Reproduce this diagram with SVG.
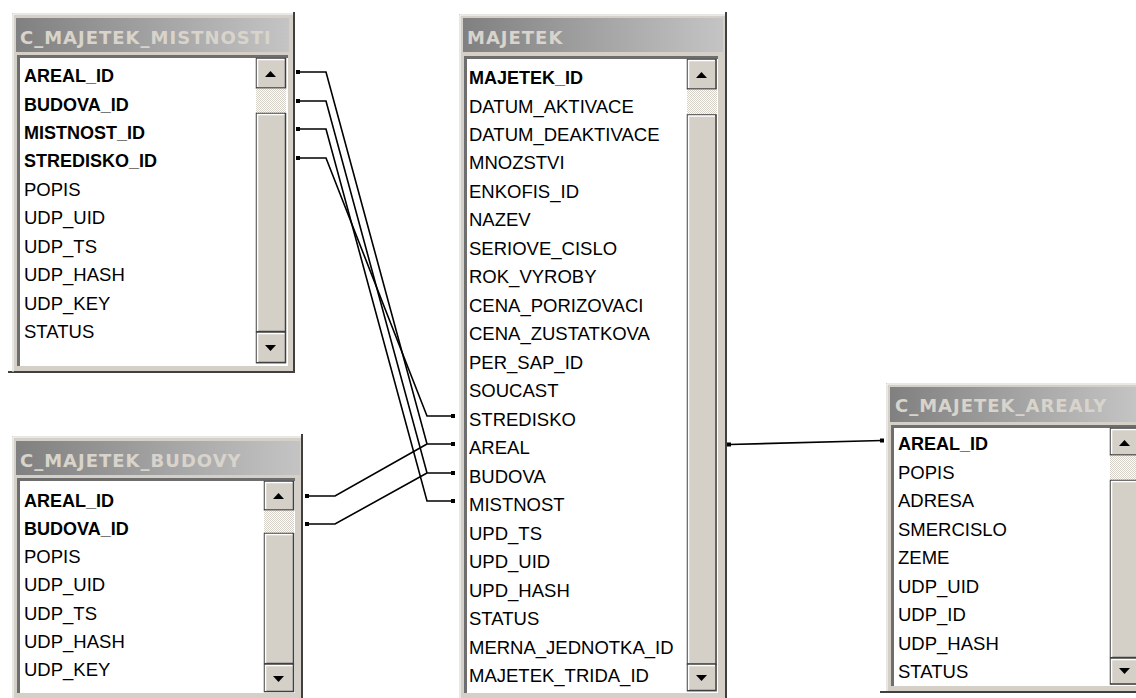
<svg xmlns="http://www.w3.org/2000/svg" width="1136" height="698" viewBox="0 0 1136 698">
<style>
.frame{fill:#d4d0c8}
.shadow{fill:none;stroke:#404040;stroke-width:2}
.hl{fill:none;stroke:#ffffff;stroke-width:1}
.title{font-family:"DejaVu Sans",sans-serif;font-weight:bold;font-size:18px;letter-spacing:1px;fill:#d8d4cc}
.list{fill:#ffffff}
.sunk{fill:none;stroke:#6e6e6e;stroke-width:3}
.f{font-family:"Liberation Sans",Arial,sans-serif;font-size:18.5px;fill:#000}
.k{font-family:"Liberation Sans",Arial,sans-serif;font-size:18px;font-weight:bold;fill:#000}
.btn{fill:#d4d0c8;stroke:#404040;stroke-width:1.5}
.btnhl{fill:none;stroke:#ffffff;stroke-width:1.5}
.hatch{fill:url(#chk)}
.arr{fill:#000}
.con{fill:none;stroke:#000;stroke-width:1.6}
.dot{fill:#000}
</style>
<defs>
<linearGradient id="tg" x1="0" y1="0" x2="1" y2="0">
<stop offset="0" stop-color="#808080"/>
<stop offset="1" stop-color="#c4c4c4"/>
</linearGradient>
<pattern id="chk" width="2" height="2" patternUnits="userSpaceOnUse">
<rect width="2" height="2" fill="#ffffff"/>
<rect width="1" height="1" fill="#d4d0c8"/>
<rect x="1" y="1" width="1" height="1" fill="#d4d0c8"/>
</pattern>
</defs>
<rect width="1136" height="698" fill="#ffffff"/>

<g id="c_majetek_mistnosti">
<rect class="frame" x="12" y="13" width="283" height="360"/>
<path class="shadow" d="M294,12 V372 H8"/>
<path class="hl" d="M13,372 V14 H293"/>
<rect x="16" y="18" width="273" height="34" fill="url(#tg)"/>
<text class="title" x="20" y="44">C_MAJETEK_MISTNOSTI</text>
<rect class="list" x="17" y="55" width="271" height="311"/>
<path class="sunk" d="M18.5,366 V56.5 H288"/>
<rect class="frame" x="256" y="58" width="30" height="306"/>
<rect class="btn" x="256.5" y="58.5" width="29" height="29.5"/>
<path class="btnhl" d="M257.5,87 V59.5 H284.5"/>
<path class="arr" d="M265,77 L276,77 L270.5,71 Z"/>
<rect class="hatch" x="256" y="88.5" width="30" height="24.5"/>
<rect class="btn" x="256.5" y="113.5" width="29" height="218"/>
<path class="btnhl" d="M257.5,331 V114.5 H284.5"/>
<rect class="btn" x="256.5" y="332.5" width="29" height="30"/>
<path class="btnhl" d="M257.5,362 V333.5 H284.5"/>
<path class="arr" d="M265,345 L276,345 L270.5,351 Z"/>
<text class="k" x="24" y="82">AREAL_ID</text>
<text class="k" x="24" y="110.5">BUDOVA_ID</text>
<text class="k" x="24" y="139">MISTNOST_ID</text>
<text class="k" x="24" y="167.3">STREDISKO_ID</text>
<text class="f" x="24" y="195.8">POPIS</text>
<text class="f" x="24" y="224.3">UDP_UID</text>
<text class="f" x="24" y="252.7">UDP_TS</text>
<text class="f" x="24" y="281.2">UDP_HASH</text>
<text class="f" x="24" y="309.6">UDP_KEY</text>
<text class="f" x="24" y="338">STATUS</text>
</g>

<g id="c_majetek_budovy">
<rect class="frame" x="12" y="436" width="291" height="262"/>
<path class="shadow" d="M302,434 V698"/>
<path class="hl" d="M13,698 V437 H301"/>
<rect x="16" y="441" width="284" height="34" fill="url(#tg)"/>
<text class="title" x="20" y="467">C_MAJETEK_BUDOVY</text>
<rect class="list" x="17" y="478" width="278" height="215"/>
<path class="sunk" d="M18.5,693 V479.5 H295"/>
<rect class="frame" x="264" y="481" width="30" height="211"/>
<rect class="btn" x="264.5" y="481.5" width="29" height="28.5"/>
<path class="btnhl" d="M265.5,509 V482.5 H292.5"/>
<path class="arr" d="M273,499 L284,499 L278.5,493 Z"/>
<rect class="hatch" x="264" y="510.5" width="30" height="22.5"/>
<rect class="btn" x="264.5" y="533.5" width="29" height="130"/>
<path class="btnhl" d="M265.5,663 V534.5 H292.5"/>
<rect class="btn" x="264.5" y="664.5" width="29" height="27"/>
<path class="btnhl" d="M265.5,691 V665.5 H292.5"/>
<path class="arr" d="M273,676 L284,676 L278.5,682 Z"/>
<text class="k" x="24" y="506.5">AREAL_ID</text>
<text class="k" x="24" y="534.8">BUDOVA_ID</text>
<text class="f" x="24" y="563.1">POPIS</text>
<text class="f" x="24" y="591.4">UDP_UID</text>
<text class="f" x="24" y="619.7">UDP_TS</text>
<text class="f" x="24" y="648">UDP_HASH</text>
<text class="f" x="24" y="676.3">UDP_KEY</text>
</g>

<g id="majetek">
<rect class="frame" x="459" y="14" width="268" height="684"/>
<path class="shadow" d="M726,12 V698"/>
<path class="hl" d="M460,698 V15 H725"/>
<rect x="463" y="18" width="260" height="34" fill="url(#tg)"/>
<text class="title" x="467" y="44">MAJETEK</text>
<rect class="list" x="464" y="56" width="254" height="637"/>
<path class="sunk" d="M465.5,693 V57.5 H718"/>
<rect class="frame" x="687" y="59" width="30" height="633"/>
<rect class="btn" x="687.5" y="59.5" width="28.5" height="29.5"/>
<path class="btnhl" d="M688.5,88 V60.5 H715"/>
<path class="arr" d="M696,78 L707,78 L701.5,72 Z"/>
<rect class="hatch" x="687" y="89.5" width="30" height="25"/>
<rect class="btn" x="687.5" y="115" width="28.5" height="549"/>
<path class="btnhl" d="M688.5,663 V116 H715"/>
<rect class="btn" x="687.5" y="664.5" width="28.5" height="26"/>
<path class="btnhl" d="M688.5,690 V665.5 H715"/>
<path class="arr" d="M696,675 L707,675 L701.5,681 Z"/>
<text class="k" x="469" y="84">MAJETEK_ID</text>
<text class="f" x="469" y="112.5">DATUM_AKTIVACE</text>
<text class="f" x="469" y="141">DATUM_DEAKTIVACE</text>
<text class="f" x="469" y="169.4">MNOZSTVI</text>
<text class="f" x="469" y="197.9">ENKOFIS_ID</text>
<text class="f" x="469" y="226.4">NAZEV</text>
<text class="f" x="469" y="254.9">SERIOVE_CISLO</text>
<text class="f" x="469" y="283.4">ROK_VYROBY</text>
<text class="f" x="469" y="311.8">CENA_PORIZOVACI</text>
<text class="f" x="469" y="340.3">CENA_ZUSTATKOVA</text>
<text class="f" x="469" y="368.8">PER_SAP_ID</text>
<text class="f" x="469" y="397.3">SOUCAST</text>
<text class="f" x="469" y="425.8">STREDISKO</text>
<text class="f" x="469" y="454.2">AREAL</text>
<text class="f" x="469" y="482.7">BUDOVA</text>
<text class="f" x="469" y="511.2">MISTNOST</text>
<text class="f" x="469" y="539.7">UPD_TS</text>
<text class="f" x="469" y="568.2">UPD_UID</text>
<text class="f" x="469" y="596.6">UPD_HASH</text>
<text class="f" x="469" y="625.1">STATUS</text>
<text class="f" x="469" y="653.6">MERNA_JEDNOTKA_ID</text>
<text class="f" x="469" y="682.1">MAJETEK_TRIDA_ID</text>
</g>

<g id="c_majetek_arealy">
<rect class="frame" x="886" y="383" width="250" height="310"/>
<path class="shadow" d="M880,692 H1136"/>
<path class="hl" d="M887,691 V384 H1136"/>
<rect x="890" y="387" width="246" height="35" fill="url(#tg)"/>
<text class="title" x="895" y="412">C_MAJETEK_AREALY</text>
<rect class="list" x="891" y="425" width="245" height="261"/>
<path class="sunk" d="M892.5,686 V426.5 H1136"/>
<rect class="frame" x="1110" y="428" width="26" height="257"/>
<rect class="btn" x="1110.5" y="428.5" width="29" height="26.5"/>
<path class="btnhl" d="M1111.5,454 V429.5 H1136"/>
<path class="arr" d="M1119,446 L1130,446 L1124.5,440 Z"/>
<rect class="hatch" x="1110" y="455.5" width="26" height="24.5"/>
<rect class="btn" x="1110.5" y="480.5" width="29" height="177"/>
<path class="btnhl" d="M1111.5,657 V481.5 H1136"/>
<rect class="btn" x="1110.5" y="658.5" width="29" height="25.5"/>
<path class="btnhl" d="M1111.5,683 V659.5 H1136"/>
<path class="arr" d="M1119,668 L1130,668 L1124.5,674 Z"/>
<text class="k" x="898" y="450">AREAL_ID</text>
<text class="f" x="898" y="478.5">POPIS</text>
<text class="f" x="898" y="507">ADRESA</text>
<text class="f" x="898" y="535.5">SMERCISLO</text>
<text class="f" x="898" y="564">ZEME</text>
<text class="f" x="898" y="592.5">UDP_UID</text>
<text class="f" x="898" y="621">UDP_ID</text>
<text class="f" x="898" y="649.5">UDP_HASH</text>
<text class="f" x="898" y="678">STATUS</text>
</g>

<g id="connectors">
<path class="con" d="M297,72 H326 L427,444 H453"/>
<path class="con" d="M297,101 H326 L427,473 H453"/>
<path class="con" d="M297,129 H326 L427,501 H453"/>
<path class="con" d="M297,158 H326 L427,416 H453"/>
<path class="con" d="M307,496 H335 L427,444"/>
<path class="con" d="M307,524 H335 L427,473"/>
<path class="con" d="M729,444.5 L882,440.5"/>
<rect class="dot" x="296" y="70" width="4" height="4"/>
<rect class="dot" x="296" y="99" width="4" height="4"/>
<rect class="dot" x="296" y="127" width="4" height="4"/>
<rect class="dot" x="296" y="156" width="4" height="4"/>
<rect class="dot" x="305" y="494" width="4" height="4"/>
<rect class="dot" x="305" y="522" width="4" height="4"/>
<rect class="dot" x="451" y="414" width="4" height="4"/>
<rect class="dot" x="451" y="442" width="4" height="4"/>
<rect class="dot" x="451" y="471" width="4" height="4"/>
<rect class="dot" x="451" y="499" width="4" height="4"/>
<rect class="dot" x="727" y="442.5" width="4" height="4"/>
<rect class="dot" x="880" y="438.5" width="4" height="4"/>
</g>
</svg>
